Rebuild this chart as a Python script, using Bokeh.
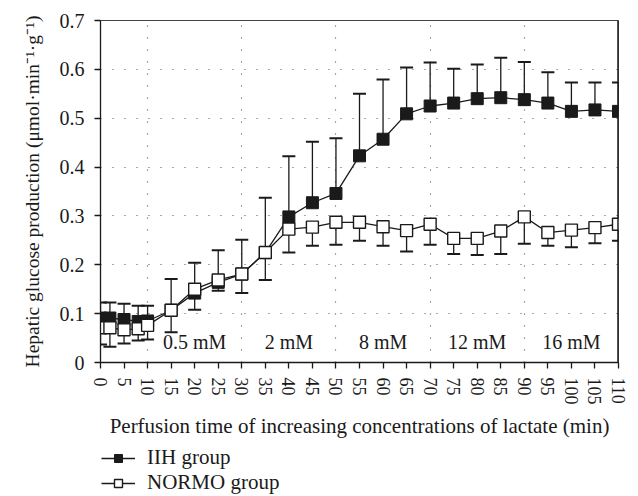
from bokeh.plotting import figure
from bokeh.layouts import column
from bokeh.models import (Range1d, FixedTicker, Whisker, ColumnDataSource, Legend,
                          LegendItem, Span, TeeHead)
from bokeh.core.properties import value
from bokeh.embed import file_html
from bokeh.resources import INLINE

# ---- data ----
time = [0, 2, 5, 8, 10, 15, 20, 25, 30, 35, 40, 45, 50, 55, 60, 65, 70, 75, 80, 85, 90, 95, 100, 105, 110]
iih = [0.091, 0.091, 0.088, 0.084, 0.085, 0.107, 0.142, 0.164, 0.181, 0.225, 0.298, 0.327, 0.346,
       0.423, 0.457, 0.509, 0.525, 0.531, 0.540, 0.542, 0.538, 0.531, 0.514, 0.517, 0.514]
iih_upper = [0.123, 0.123, 0.120, 0.116, 0.116, 0.171, 0.204, 0.230, 0.251, 0.337, 0.422, 0.452, 0.459,
             0.550, 0.579, 0.604, 0.614, 0.601, 0.610, 0.624, 0.615, 0.594, 0.573, 0.573, 0.573]
normo = [0.071, 0.071, 0.067, 0.069, 0.076, 0.107, 0.150, 0.169, 0.181, 0.225, 0.273, 0.277, 0.287,
         0.287, 0.278, 0.270, 0.283, 0.254, 0.254, 0.269, 0.298, 0.266, 0.271, 0.276, 0.283]
normo_lower = [0.037, 0.032, 0.039, 0.045, 0.047, 0.062, 0.108, 0.147, 0.142, 0.169, 0.225, 0.239, 0.241,
               0.249, 0.239, 0.227, 0.241, 0.222, 0.220, 0.222, 0.243, 0.239, 0.236, 0.244, 0.249]

phase_bounds = [10, 30, 50, 70, 90, 110]
phase_labels = ["0.5 mM", "2 mM", "8 mM", "12 mM", "16 mM"]
phase_label_y = 0.041

series_names = ["IIH group", "NORMO group"]

x_ticks = list(range(0, 111, 5))
y_ticks = [0, 0.1, 0.2, 0.3, 0.4, 0.5, 0.6, 0.7]

FONT = "Liberation Serif"
INK = "#1a1a1a"

p = figure(width=638, height=440, output_backend="svg", toolbar_location=None,
           x_range=Range1d(0, 110), y_range=Range1d(0, 0.7),
           min_border_left=100, min_border_right=20, min_border_top=20, min_border_bottom=77)

p.outline_line_color = "#444444"
p.outline_line_width = 1
p.background_fill_color = "white"
p.border_fill_color = "white"

# grids
p.xgrid.ticker = FixedTicker(ticks=phase_bounds[:-1])
p.ygrid.ticker = FixedTicker(ticks=y_ticks[1:-1])
for g in (p.xgrid, p.ygrid):
    g.grid_line_color = "#555555"
    g.grid_line_dash = "1 11"
    g.grid_line_width = 1.2

# axes
p.xaxis.ticker = FixedTicker(ticks=x_ticks)
p.yaxis.ticker = FixedTicker(ticks=y_ticks)
p.yaxis.major_label_overrides = {0: "0"}
for ax in (p.xaxis, p.yaxis):
    ax.axis_line_color = INK
    ax.axis_line_width = 1.3
    ax.major_tick_line_color = INK
    ax.major_tick_line_width = 1.3
    ax.major_tick_in = 0
    ax.major_tick_out = 6
    ax.minor_tick_line_color = None
    ax.major_label_text_font = FONT
    ax.major_label_text_color = INK
    ax.axis_label_text_font = FONT
    ax.axis_label_text_font_style = "normal"
    ax.axis_label_text_color = INK
p.xaxis.major_label_text_font_size = "18px"
p.yaxis.major_label_text_font_size = "20px"
p.xaxis.major_label_orientation = "vertical"
p.xaxis.major_label_standoff = 9
p.xaxis.axis_label = "Perfusion time of increasing concentrations of lactate (min)"
p.xaxis.axis_label_text_font_size = "21px"
p.xaxis.axis_label_standoff = 6
p.yaxis.axis_label = "Hepatic glucose production (μmol·min⁻¹·g⁻¹)"
p.yaxis.axis_label_text_font_size = "19.5px"
p.yaxis.axis_label_standoff = 14
p.yaxis.major_label_standoff = 10

# thick right border
p.add_layout(Span(location=110, dimension="height", line_color=INK, line_width=2.5))

src = ColumnDataSource(dict(t=time, iih=iih, iih_up=iih_upper, normo=normo, normo_lo=normo_lower))

# error bars
w1 = Whisker(source=src, base="t", lower="iih", upper="iih_up", line_color=INK, line_width=1.3,
             upper_head=TeeHead(size=13, line_color=INK, line_width=2), lower_head=None)
w2 = Whisker(source=src, base="t", lower="normo_lo", upper="normo", line_color=INK, line_width=1.3,
             lower_head=TeeHead(size=13, line_color=INK, line_width=2), upper_head=None)
p.add_layout(w1)
p.add_layout(w2)


def draw_series(fig):
    a = fig.line("t", "iih", source=src, line_color=INK, line_width=1.3)
    b = fig.scatter("t", "iih", source=src, marker="square", size=12, fill_color=INK, line_color=INK)
    c = fig.line("t", "normo", source=src, line_color=INK, line_width=1.3)
    d = fig.scatter("t", "normo", source=src, marker="square", size=12, fill_color="white",
                    line_color=INK, line_width=1.4)
    return a, b, c, d


draw_series(p)

# phase labels
mids = [(a + b) / 2 for a, b in zip(phase_bounds[:-1], phase_bounds[1:])]
p.text(x=mids, y=[phase_label_y] * len(mids), text=phase_labels, text_font=value(FONT),
       text_font_size="20px", text_align="center", text_baseline="middle", text_color=INK)

# ---- legend strip below the chart (its series lie outside its view) ----
q = figure(width=638, height=56, output_backend="svg", toolbar_location=None,
           x_axis_type=None, y_axis_type=None, x_range=Range1d(0, 110), y_range=Range1d(10, 11),
           min_border_left=96, min_border_right=0, min_border_top=0, min_border_bottom=0,
           outline_line_color=None)
q.grid.visible = False
ql1, qm1, ql2, qm2 = draw_series(q)
legend = Legend(items=[LegendItem(label=series_names[0], renderers=[ql1, qm1]),
                       LegendItem(label=series_names[1], renderers=[ql2, qm2])],
                location="bottom_left", orientation="vertical",
                label_text_font=FONT, label_text_font_size="21px", label_text_color=INK,
                glyph_width=34, glyph_height=20, spacing=0, padding=0, margin=1,
                label_standoff=12, border_line_color=None, background_fill_alpha=0)
q.add_layout(legend, "center")

open("out.html", "w").write(file_html(column(p, q, spacing=0), INLINE))
